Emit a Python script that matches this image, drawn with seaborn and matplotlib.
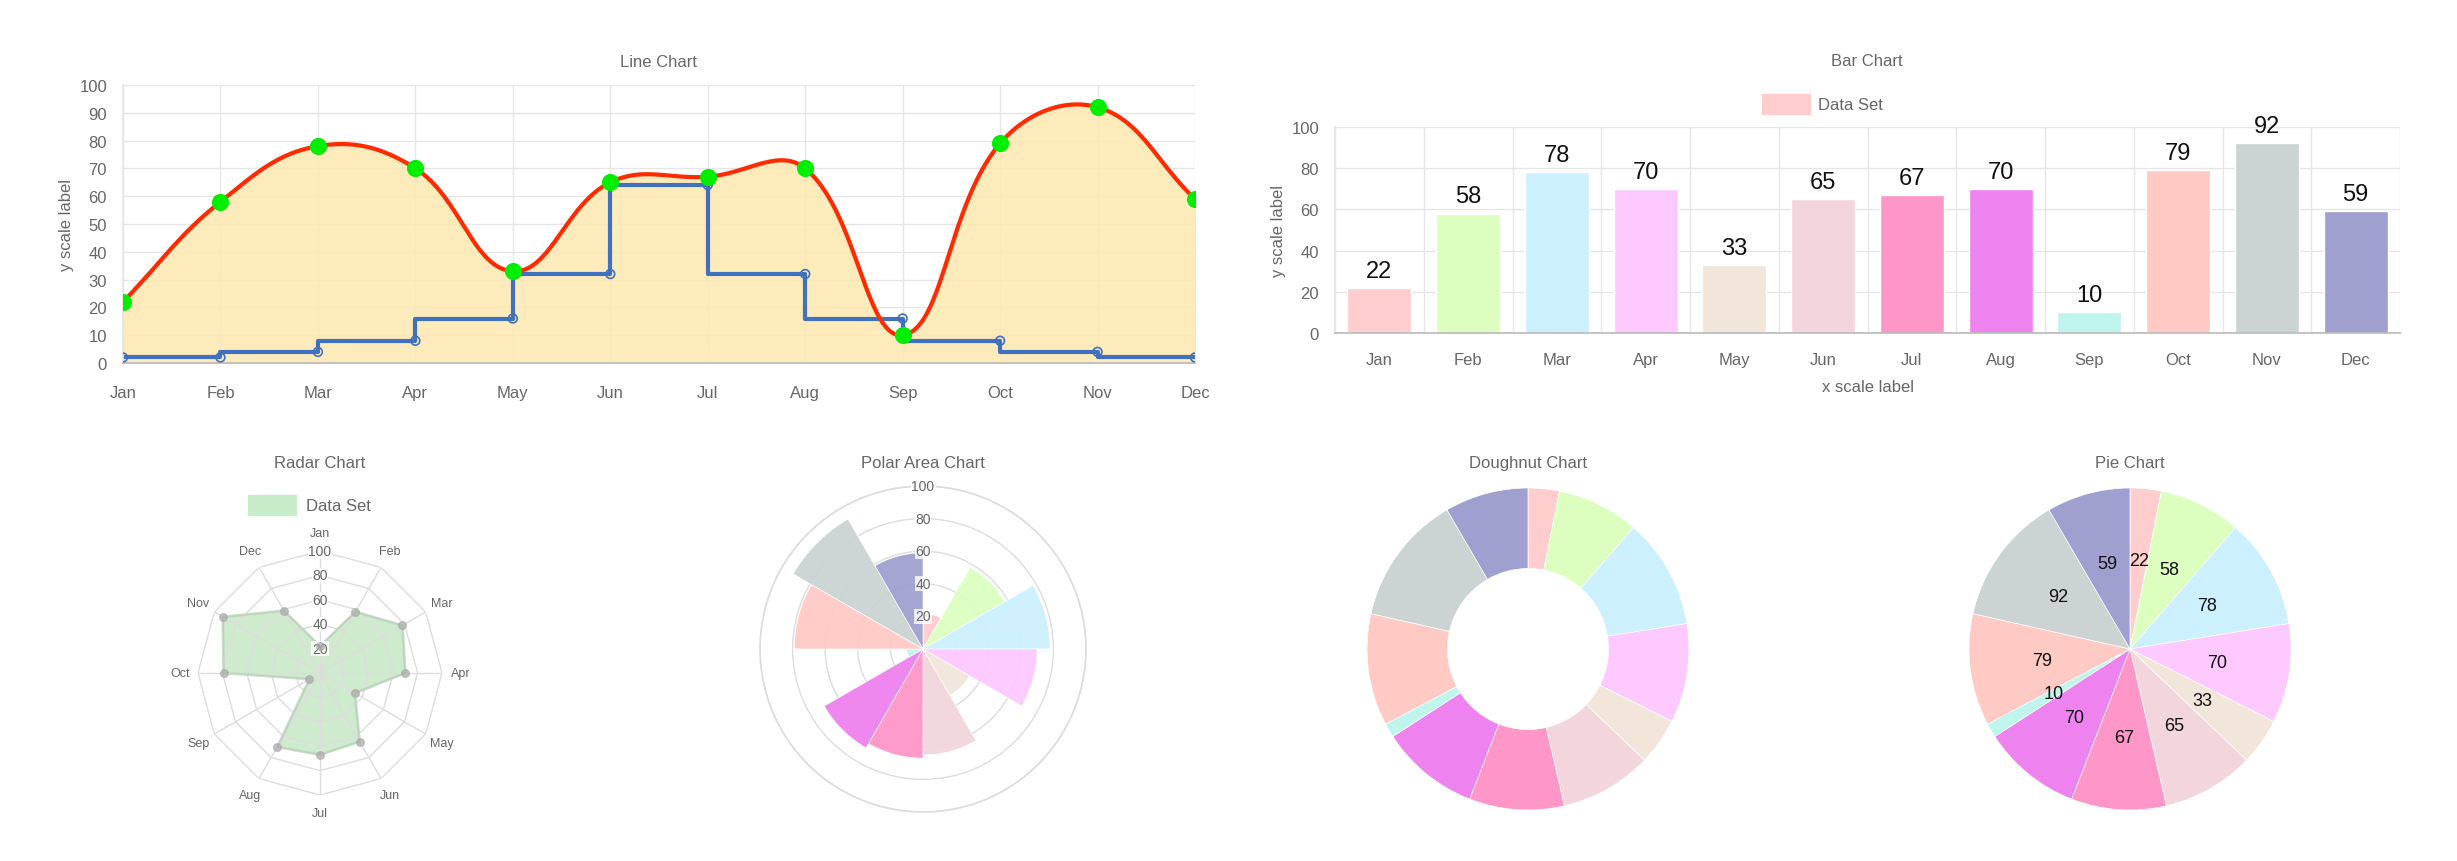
import numpy as np
import pandas as pd
import seaborn as sns
import matplotlib.pyplot as plt

# data
months = ["Jan", "Feb", "Mar", "Apr", "May", "Jun", "Jul", "Aug", "Sep", "Oct", "Nov", "Dec"]
values = [22, 58, 78, 70, 33, 65, 67, 70, 10, 79, 92, 59]
step_values = [2, 2, 4, 8, 16, 32, 64, 32, 16, 8, 4, 2]
colors = ["#ffcdcd", "#dcffc0", "#cdf0ff", "#fdc9ff", "#f2e6da", "#f2d6dc",
          "#ff96c8", "#ee82ee", "#c0f5ee", "#ffcac4", "#cbd3d3", "#a0a0d0"]

sns.set_theme(style="white")
plt.rcParams['font.family'] = ['Liberation Sans', 'DejaVu Sans']
TXT = "#666666"
GRID = "#e6e6e6"

W, H = 2457, 862
fig = plt.figure(figsize=(W / 100, H / 100), dpi=100)


def px(l, t, w, h):
    return [l / W, 1 - (t + h) / H, w / W, h / H]


# chart.js style bezier curve through the points (tension 0.4)
def spline_curve(xs, ys, sx=97.5, sy=2.78, t=0.4, n=30):
    p = np.column_stack([np.array(xs) * sx, np.array(ys) * sy])
    k = len(p)
    c1, c2 = [], []
    for i in range(k):
        prev = p[max(i - 1, 0)]
        nxt = p[min(i + 1, k - 1)]
        d01 = np.linalg.norm(p[i] - prev)
        d12 = np.linalg.norm(nxt - p[i])
        s = d01 + d12 if d01 + d12 > 0 else 1
        c1.append(p[i] - t * d01 / s * (nxt - prev))
        c2.append(p[i] + t * d12 / s * (nxt - prev))
    out = []
    u = np.linspace(0, 1, n)[:, None]
    for i in range(k - 1):
        a, b, c, d = p[i], c2[i], c1[i + 1], p[i + 1]
        seg = (1 - u) ** 3 * a + 3 * (1 - u) ** 2 * u * b + 3 * (1 - u) * u ** 2 * c + u ** 3 * d
        out.append(seg)
    out = np.vstack(out)
    return out[:, 0] / sx, out[:, 1] / sy


# ---------------------------------------------------------------- line chart
ax = fig.add_axes(px(123, 86, 1072, 278))
x = np.arange(len(months))
cx, cy = spline_curve(x, values)
ax.fill_between(cx, cy, 0, color="#fde9b4", alpha=0.9, zorder=1)
ax.plot(cx, cy, color="#ff2a00", lw=3, zorder=3)
df_step = pd.DataFrame({"x": x, "y": step_values})
sns.lineplot(data=df_step, x="x", y="y", ax=ax, color="#4070c0", lw=3,
             drawstyle="steps-pre", zorder=2)
ax.scatter(x, step_values, s=40, facecolor="none", edgecolor="#4070c0", lw=1.2, zorder=4)
df_line = pd.DataFrame({"x": x, "y": values})
sns.scatterplot(data=df_line, x="x", y="y", ax=ax, color="#00ee00", s=130,
                edgecolor="#00ee00", zorder=5)
ax.set_xlim(0, 11)
ax.set_ylim(0, 100)
ax.set_yticks(range(0, 101, 10))
ax.set_xticks(x)
ax.set_xticklabels(months)
ax.grid(True, color=GRID, lw=1)
ax.tick_params(axis="x", length=10, color=GRID, pad=6, labelcolor=TXT, labelsize=12)
ax.tick_params(axis="y", length=8, color=GRID, labelcolor=TXT, labelsize=12)
for s in ["top", "right"]:
    ax.spines[s].set_visible(False)
ax.spines["left"].set_color(GRID)
ax.spines["bottom"].set_color("#bbbbbb")
ax.set_xlabel("")
ax.set_ylabel("y scale label", color=TXT, fontsize=12)
ax.set_title("Line Chart", color=TXT, fontsize=12, pad=14)

# ---------------------------------------------------------------- bar chart
ax = fig.add_axes(px(1335, 128, 1065, 206))
df_bar = pd.DataFrame({"month": months, "value": values})
sns.barplot(data=df_bar, x="month", y="value", hue="month", palette=colors,
            legend=False, ax=ax, width=0.72, saturation=1)
for i, v in enumerate(values):
    ax.text(i, v + 3, str(v), ha="center", va="bottom", fontsize=17, color="#111111")
ax.set_xlim(-0.5, 11.5)
ax.set_ylim(0, 100)
ax.set_yticks(range(0, 101, 20))
ax.set_xticks(np.arange(-0.5, 12, 1), minor=True)
ax.grid(True, which="minor", axis="x", color=GRID, lw=1)
ax.grid(True, which="major", axis="y", color=GRID, lw=1)
ax.tick_params(axis="x", which="major", length=0, pad=14, labelcolor=TXT, labelsize=12)
ax.tick_params(axis="x", which="minor", length=10, color=GRID)
ax.tick_params(axis="y", length=8, color=GRID, labelcolor=TXT, labelsize=12)
for s in ["top", "right"]:
    ax.spines[s].set_visible(False)
ax.spines["left"].set_color(GRID)
ax.spines["bottom"].set_color("#bbbbbb")
ax.set_xlabel("x scale label", color=TXT, fontsize=12, labelpad=8)
ax.set_ylabel("y scale label", color=TXT, fontsize=12)
fig.text(1867 / W, 1 - 62 / H, "Bar Chart", ha="center", va="center", color=TXT, fontsize=12)
fig.patches.append(plt.Rectangle((1762 / W, 1 - 115 / H), 48 / W, 20 / H,
                                 transform=fig.transFigure, color=colors[0]))
fig.text(1818 / W, 1 - 106 / H, "Data Set", ha="left", va="center", color=TXT, fontsize=12)

# ---------------------------------------------------------------- radar chart
R = 122
cxr, cyr = 320, 674
ax = fig.add_axes(px(cxr - R, cyr - R, 2 * R, 2 * R), projection="polar")
ax.set_theta_zero_location("N")
ax.set_theta_direction(-1)
ang = np.linspace(0, 2 * np.pi, 13)
for lev in range(20, 101, 20):
    ax.plot(ang, [lev] * 13, color="#dddddd", lw=1)
for a in ang[:-1]:
    ax.plot([a, a], [0, 100], color="#dddddd", lw=1)
vals_c = values + values[:1]
ax.fill(ang, vals_c, color="#9fd99f", alpha=0.5)
ax.plot(ang, vals_c, color="#b8ccb8", lw=2, alpha=0.6)
ax.scatter(ang[:-1], values, s=30, color="#aaaaaa", alpha=0.7, zorder=4)
for lev in range(20, 101, 20):
    ax.text(0, lev, str(lev), ha="center", va="center", fontsize=10, color=TXT,
            bbox=dict(facecolor="white", edgecolor="none", pad=0.5, alpha=0.8))
for a, m in zip(ang[:-1], months):
    ax.text(a, 115, m, ha="center", va="center", fontsize=9, color=TXT)
ax.set_ylim(0, 100)
ax.grid(False)
ax.set_xticks([])
ax.set_yticks([])
ax.spines["polar"].set_visible(False)
fig.text(cxr / W, 1 - 464 / H, "Radar Chart", ha="center", va="center", color=TXT, fontsize=12)
fig.patches.append(plt.Rectangle((248 / W, 1 - 516 / H), 48 / W, 20 / H,
                                 transform=fig.transFigure, color="#c8ecc8"))
fig.text(306 / W, 1 - 507 / H, "Data Set", ha="left", va="center", color=TXT, fontsize=12)

# ---------------------------------------------------------------- polar area
R = 163
cxp, cyp = 923, 650
ax = fig.add_axes(px(cxp - R, cyp - R, 2 * R, 2 * R), projection="polar")
ax.set_theta_zero_location("N")
ax.set_theta_direction(-1)
width = 2 * np.pi / 12
ax.bar(np.arange(12) * width, values, width=width, align="edge", color=colors,
       alpha=0.95, edgecolor="white", lw=0.5)
ax.set_ylim(0, 100)
ax.set_yticks(range(20, 101, 20))
ax.set_yticklabels([])
ax.set_xticks([])
ax.grid(True, axis="y", color="#dddddd", lw=1)
ax.spines["polar"].set_color("#dddddd")
for lev in range(20, 101, 20):
    ax.text(0, lev, str(lev), ha="center", va="center", fontsize=10, color=TXT,
            bbox=dict(facecolor="white", edgecolor="none", pad=0.5, alpha=0.8))
fig.text(cxp / W, 1 - 464 / H, "Polar Area Chart", ha="center", va="center", color=TXT, fontsize=12)

# ---------------------------------------------------------------- doughnut
R = 161
cxd, cyd = 1528, 650
ax = fig.add_axes(px(cxd - R, cyd - R, 2 * R, 2 * R))
ax.pie(values, colors=colors, startangle=90, counterclock=False, radius=1,
       wedgeprops=dict(width=0.5, edgecolor="white", lw=0.5))
ax.set_xlim(-1, 1)
ax.set_ylim(-1, 1)
fig.text(cxd / W, 1 - 464 / H, "Doughnut Chart", ha="center", va="center", color=TXT, fontsize=12)

# ---------------------------------------------------------------- pie
cxq, cyq = 2130, 650
ax = fig.add_axes(px(cxq - R, cyq - R, 2 * R, 2 * R))
ax.pie(values, colors=colors, startangle=90, counterclock=False, radius=1,
       labels=[str(v) for v in values], labeldistance=0.55,
       textprops=dict(fontsize=13, color="#111111", ha="center", va="center"),
       wedgeprops=dict(edgecolor="white", lw=0.5))
ax.set_xlim(-1, 1)
ax.set_ylim(-1, 1)
fig.text(cxq / W, 1 - 464 / H, "Pie Chart", ha="center", va="center", color=TXT, fontsize=12)

fig.savefig("out.png", dpi=100)
